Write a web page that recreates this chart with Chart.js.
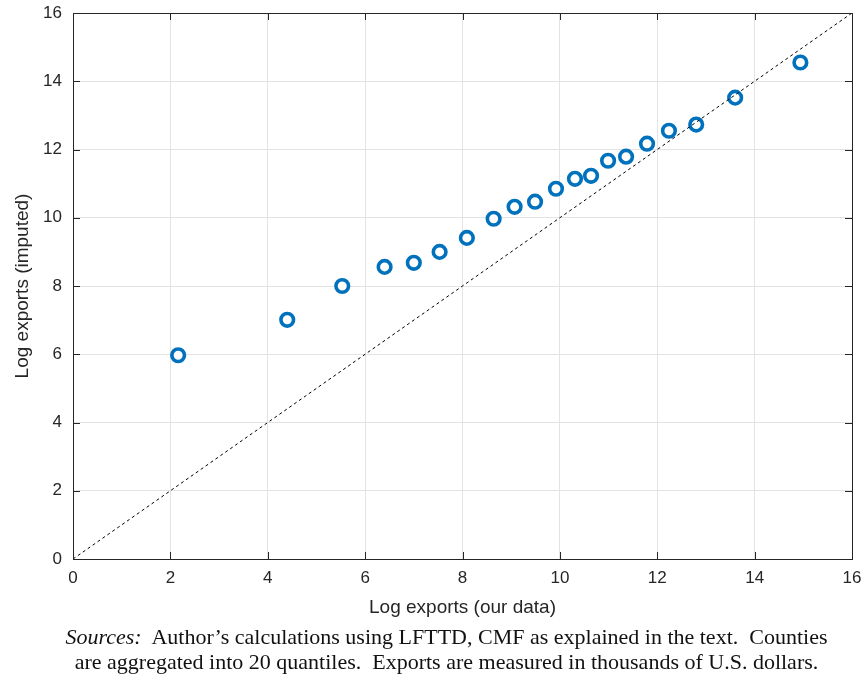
<!DOCTYPE html>
<html>
<head>
  <title>Log exports: imputed vs our data</title>
  <script src="https://cdn.jsdelivr.net/npm/chart.js"></script>
  <style>
    body { margin: 0; background: #fff; }
    #wrap { position: relative; width: 865px; height: 683px; }
    #note {
      position: absolute; left: 0; top: 624px; width: 893px;
      text-align: center; font-family: "Liberation Serif", "DejaVu Serif", serif;
      font-size: 22px; line-height: 25px; color: #111;
    }
  </style>
</head>
<body>
  <div id="wrap">
    <canvas id="qq" width="865" height="683"></canvas>
    <div id="note"><i>Sources:</i>&nbsp; Author’s calculations using LFTTD, CMF as explained in the text.&nbsp; Counties<br>are aggregated into 20 quantiles.&nbsp; Exports are measured in thousands of U.S. dollars.</div>
  </div>
  <script>
    // quantile points
    const ourData = [2.16, 4.40, 5.53, 6.40, 7.00, 7.53, 8.09, 8.64, 9.07, 9.49, 9.92, 10.31, 10.64, 10.99, 11.36, 11.79, 12.24, 12.80, 13.60, 14.94];
    const imputed = [5.97, 7.01, 8.00, 8.56, 8.68, 9.00, 9.41, 9.97, 10.32, 10.47, 10.85, 11.14, 11.23, 11.67, 11.79, 12.17, 12.55, 12.73, 13.52, 14.55];
    const axisTicks = [0, 2, 4, 6, 8, 10, 12, 14, 16];

    const pts = ourData.map((x, i) => ({ x: x, y: imputed[i] }));

    // box + inward tick marks like the original
    const boxTicks = {
      id: 'boxTicks',
      afterDraw(chart) {
        const { ctx, chartArea: a, scales } = chart;
        ctx.save();
        ctx.strokeStyle = '#262626';
        ctx.lineWidth = 1;
        axisTicks.forEach(v => {
          const px = Math.round(scales.x.getPixelForValue(v)) + 0.5;
          const py = Math.round(scales.y.getPixelForValue(v)) + 0.5;
          ctx.beginPath();
          ctx.moveTo(px, a.bottom); ctx.lineTo(px, a.bottom - 7);
          ctx.moveTo(px, a.top); ctx.lineTo(px, a.top + 7);
          ctx.moveTo(a.left, py); ctx.lineTo(a.left + 7, py);
          ctx.moveTo(a.right, py); ctx.lineTo(a.right - 7, py);
          ctx.stroke();
        });
        ctx.strokeRect(Math.round(a.left) + 0.5, Math.round(a.top) + 0.5, Math.round(a.right - a.left), Math.round(a.bottom - a.top));
        ctx.restore();
      }
    };

    new Chart(document.getElementById('qq'), {
      type: 'scatter',
      data: {
        datasets: [
          {
            type: 'line',
            data: [{ x: 0, y: 0 }, { x: 16, y: 16 }],
            borderColor: '#000',
            borderWidth: 1,
            borderDash: [3, 3],
            pointRadius: 0,
            fill: false
          },
          {
            data: pts,
            pointRadius: 6.3,
            pointBorderWidth: 3.6,
            pointBackgroundColor: '#fff',
            pointBorderColor: '#0072BD'
          }
        ]
      },
      options: {
        responsive: false,
        animation: false,
        layout: { autoPadding: false, padding: { top: 13, right: 13, left: 0, bottom: 64 } },
        plugins: { legend: { display: false }, tooltip: { enabled: false } },
        scales: {
          x: {
            type: 'linear', min: 0, max: 16,
            afterBuildTicks: s => { s.ticks = axisTicks.map(v => ({ value: v })); },
            afterFit: s => { s.height = 60; s.paddingLeft = 0; s.paddingRight = 0; },
            grid: { color: '#e3e3e3', drawTicks: false },
            border: { display: false },
            ticks: { color: '#262626', font: { family: 'Liberation Sans', size: 17 }, padding: 9, maxRotation: 0 },
            title: { display: true, text: 'Log exports (our data)', color: '#262626', font: { family: 'Liberation Sans', size: 19 }, padding: { top: 7, bottom: 0 } }
          },
          y: {
            type: 'linear', min: 0, max: 16,
            afterBuildTicks: s => { s.ticks = axisTicks.map(v => ({ value: v })); },
            afterFit: s => { s.width = 73; s.paddingTop = 0; s.paddingBottom = 0; },
            grid: { color: '#e3e3e3', drawTicks: false },
            border: { display: false },
            ticks: { color: '#262626', font: { family: 'Liberation Sans', size: 17 }, padding: 11 },
            title: { display: true, text: 'Log exports (imputed)', color: '#262626', font: { family: 'Liberation Sans', size: 19 }, padding: { top: 11, bottom: 2 } }
          }
        }
      },
      plugins: [boxTicks]
    });
  </script>
</body>
</html>
